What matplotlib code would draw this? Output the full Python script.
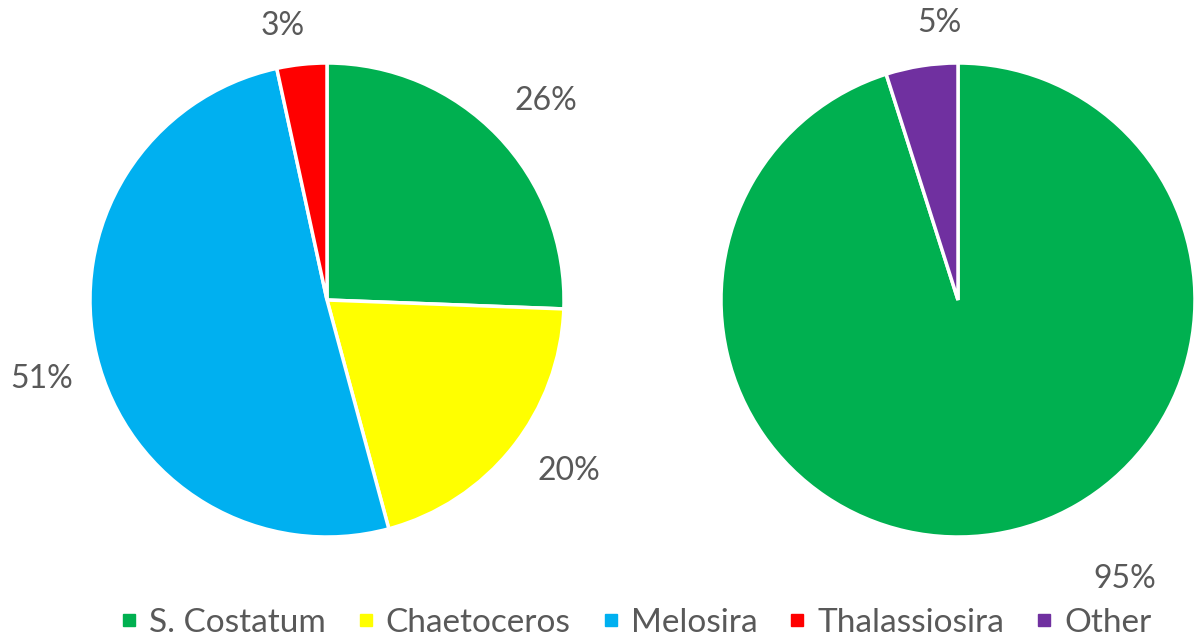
import matplotlib.pyplot as plt
from matplotlib.lines import Line2D
import numpy as np

plt.rcParams['font.family'] = ['Lato', 'DejaVu Sans']

# data (percent shares, labels shown rounded)
left_names = ["S. Costatum", "Chaetoceros", "Melosira", "Thalassiosira"]
left_vals = [25.6, 20.2, 50.8, 3.4]
right_names = ["S. Costatum", "Other"]
right_vals = [95.1, 4.9]
legend_names = ["S. Costatum", "Chaetoceros", "Melosira", "Thalassiosira", "Other"]

colors = {"S. Costatum": "#00B050", "Chaetoceros": "#FFFF00", "Melosira": "#00B0F0",
          "Thalassiosira": "#FF0000", "Other": "#7030A0"}
txt_color = "#595959"

W, H = 1198, 637
fig = plt.figure(figsize=(W / 100, H / 100), dpi=100)

def pie_axes(cx, cy, r):
    # cx, cy, r in pixels (y from top)
    return fig.add_axes([(cx - r) / W, (H - cy - r) / H, 2 * r / W, 2 * r / H])

def draw_pie(ax, names, vals, dists, shifts):
    wedges, _ = ax.pie(vals, colors=[colors[n] for n in names], startangle=90,
                       counterclock=False, radius=1,
                       wedgeprops=dict(edgecolor='white', linewidth=2.5))
    ax.set_xlim(-1, 1)
    ax.set_ylim(-1, 1)
    ax.axis('off')
    for w, v, d, s in zip(wedges, vals, dists, shifts):
        ang = np.deg2rad((w.theta1 + w.theta2) / 2 + s)
        ax.text(d * np.cos(ang), d * np.sin(ang), f"{v:.0f}%", ha='center', va='center',
                fontsize=23, color=txt_color, clip_on=False)

ax1 = pie_axes(327, 300, 237)
draw_pie(ax1, left_names, left_vals, [1.25, 1.25, 1.25, 1.17], [-1.6, 3.2, 1.7, 3])

ax2 = pie_axes(958, 300, 237)
draw_pie(ax2, right_names, right_vals, [1.37, 1.17], [22, -5])

handles = [Line2D([], [], linestyle='none', marker='s', markersize=9,
                  markerfacecolor=colors[n], markeredgecolor=colors[n]) for n in legend_names]
fig.legend(handles, legend_names, loc='center', bbox_to_anchor=(0.531, (H - 623) / H),
           ncol=5, frameon=False, fontsize=24, labelcolor=txt_color,
           handlelength=0.5, handletextpad=0.35, columnspacing=0.95)

fig.savefig('out.png', dpi=100)
